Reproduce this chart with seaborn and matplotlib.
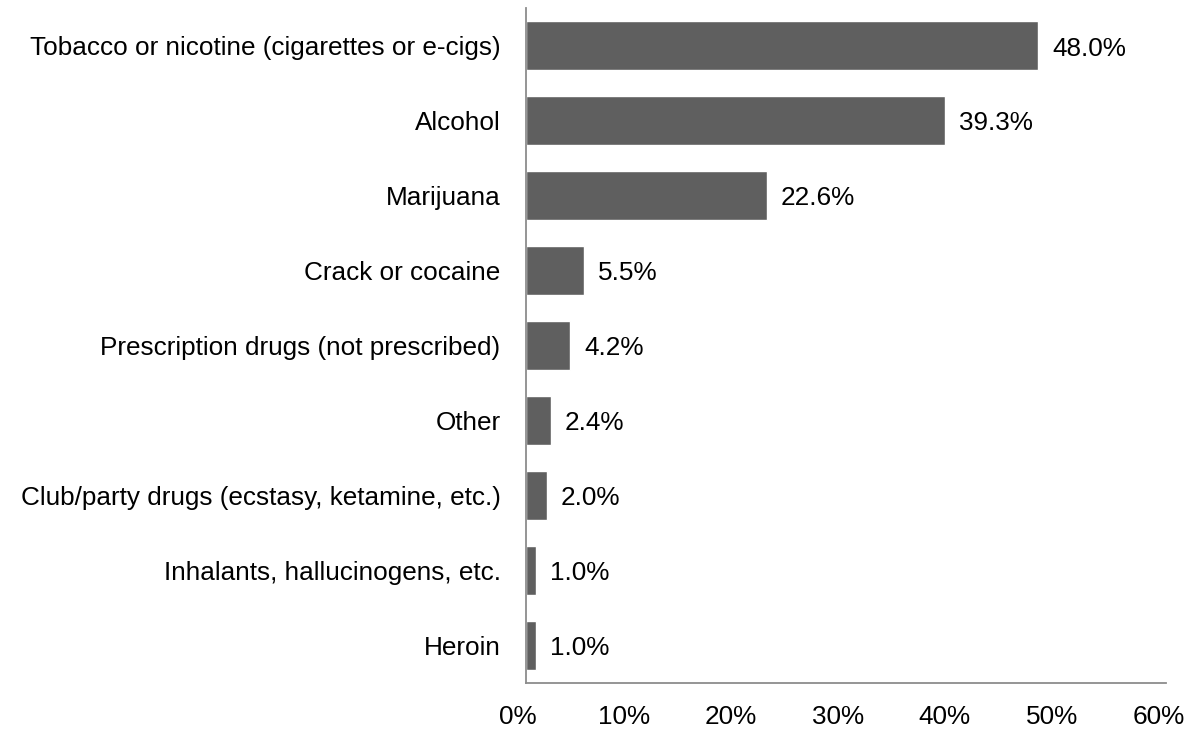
import pandas as pd
import seaborn as sns
import matplotlib.pyplot as plt
import matplotlib.transforms as mtransforms
from matplotlib.ticker import PercentFormatter

substances = [
    "Tobacco or nicotine (cigarettes or e-cigs)",
    "Alcohol",
    "Marijuana",
    "Crack or cocaine",
    "Prescription drugs (not prescribed)",
    "Other",
    "Club/party drugs (ecstasy, ketamine, etc.)",
    "Inhalants, hallucinogens, etc.",
    "Heroin",
]
percent = [48.0, 39.3, 22.6, 5.5, 4.2, 2.4, 2.0, 1.0, 1.0]

df = pd.DataFrame({"substance": substances, "percent": percent})

sns.set_style("white")
plt.rcParams["font.family"] = ["Liberation Sans", "DejaVu Sans"]

fig = plt.figure(figsize=(12, 7.31), dpi=100)
ax = fig.add_axes([0.438, 0.0657, 0.534, 0.923])

sns.barplot(data=df, x="percent", y="substance", orient="h",
            color="#5f5f5f", saturation=1, width=0.65, ax=ax)

for p, v in zip(ax.patches, percent):
    ax.annotate(f"{v:.1f}%", (p.get_width(), p.get_y() + p.get_height() / 2),
                xytext=(10, -2), textcoords="offset points",
                ha="left", va="center", fontsize=18.8, color="#000000")

ax.set_xlim(0, 60)
ax.set_ylim(8.5, -0.5)
ax.set_xticks(range(0, 61, 10))
ax.xaxis.set_major_formatter(PercentFormatter(decimals=0))
ax.set_xlabel("")
ax.set_ylabel("")
ax.tick_params(axis="both", length=0, labelsize=18.8, colors="#000000")
ax.tick_params(axis="x", pad=16)
ax.tick_params(axis="y", pad=18)

# excel puts the x labels a little left of the ticks
shift = mtransforms.ScaledTranslation(-8 / 100, 0, fig.dpi_scale_trans)
for lbl in ax.get_xticklabels():
    lbl.set_transform(lbl.get_transform() + shift)

for s in ["top", "right"]:
    ax.spines[s].set_visible(False)
for s in ["left", "bottom"]:
    ax.spines[s].set_color("#8c8c8c")
    ax.spines[s].set_linewidth(1.3)

fig.savefig("out.png", dpi=100)
